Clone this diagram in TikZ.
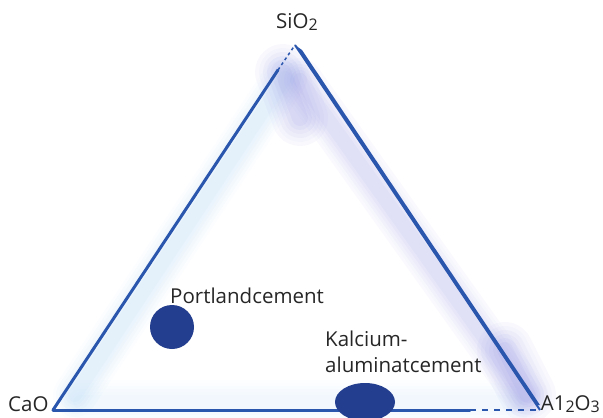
\documentclass[tikz,border=0pt]{standalone}
\usepackage{fontspec}
\setmainfont{Open Sans}
\definecolor{edge}{HTML}{2A56AE}
\definecolor{dot}{HTML}{233E8E}
\definecolor{glowA}{HTML}{8C8CE0}
\definecolor{glowB}{HTML}{9CCAF0}
\newcommand{\sbs}[1]{\raisebox{-0.2ex}{\fontsize{16}{16}\selectfont #1}}
\begin{document}
\begin{tikzpicture}[x=1pt,y=-1pt,
  lbl/.style={font=\fontsize{20.5}{24}\selectfont, text=black!85, inner sep=0pt},
  edgeline/.style={draw=edge, line width=3pt, line cap=round},
  blob/.style={fill=dot, draw=none}]
\useasboundingbox (0,0) rectangle (603,418);
% vertices
\coordinate (T) at (295,45);
\coordinate (L) at (53,410);
\coordinate (R) at (540,410);
% glow along edges
\foreach \w/\o in {44/0.04,38/0.04,32/0.05,26/0.05,20/0.06,14/0.07}{
  \draw[glowB, line width=\w pt, opacity=\o, line cap=round] (75,395) -- (285,78);
  \draw[glowA, line width=\w pt, opacity=\o, line cap=round] (300,80) -- (525,395);
  \draw[glowB, line width=\w pt, opacity=\o*0.5, line cap=round] (80,402) -- (515,402);
}
% purple spots
\foreach \w/\o in {56/0.05,48/0.05,40/0.06,32/0.07,24/0.08,16/0.09}{
  \draw[glowA, line width=\w pt, opacity=\o, line cap=round] (283,72) -- (300,118);
  \draw[glowA, line width=\w pt, opacity=\o, line cap=round] (505,350) -- (528,395);
}
% edges
\draw[edgeline] (L) -- (278,70);
\draw[edge, line width=1.5pt, dashed] (278,70) -- (T);
\fill[edge] (T) -- (302,50) -- (540,405) -- (536,405) -- cycle;
\draw[edge, line width=2pt] (T) -- (R);
\draw[edgeline] (L) -- (470,410);
\draw[edge, line width=1.5pt, dash pattern=on 6pt off 6pt] (470,410) -- (R);
% labels
\node[lbl, anchor=base] (si) at (297,28) {SiO\sbs{2}};
\node[lbl, anchor=base west] (ca) at (8,411) {CaO};
\node[lbl, anchor=base east] (al) at (600,410) {A1\sbs{2}O\sbs{3}};
\node[lbl, anchor=base west] (pc) at (170,303) {Portlandcement};
\node[lbl, anchor=base west] (kc) at (325,346) {Kalcium-};
\node[lbl, anchor=base west] (kc2) at (325,372) {aluminatcement};
% blobs
\fill[blob] (172,327) circle (22);
\fill[blob] (365,402) ellipse (30 and 19);
\end{tikzpicture}
\end{document}
